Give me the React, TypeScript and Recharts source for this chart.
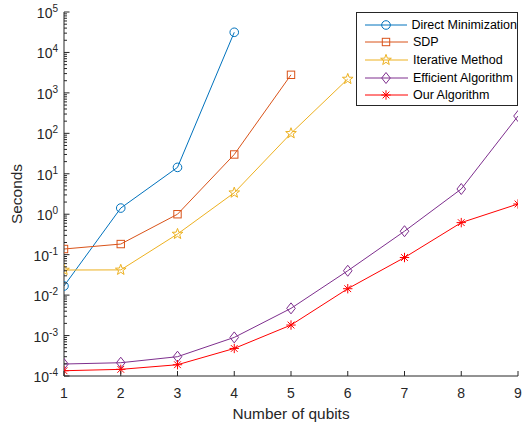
import { LineChart, Line, XAxis, YAxis, Legend } from 'recharts'

const qubits = [1, 2, 3, 4, 5, 6, 7, 8, 9]
const directMin = [0.0168, 1.42, 14.4, 31500]
const sdp = [0.138, 0.183, 1.0, 30, 2800]
const iterative = [0.0417, 0.042, 0.324, 3.4, 100, 2200]
const efficient = [1.98e-4, 2.13e-4, 3.0e-4, 9.0e-4, 4.7e-3, 0.04, 0.38, 4.2, 268]
const ours = [1.35e-4, 1.46e-4, 1.9e-4, 4.8e-4, 1.82e-3, 0.0144, 0.085, 0.62, 1.79]

const exponents = [-4, -3, -2, -1, 0, 1, 2, 3, 4, 5]

const FONT = '"Liberation Sans", Arial, Helvetica, sans-serif'
const AXIS = '#262626'

const majorTicks = exponents.map((e) => Math.pow(10, e))
const minorTicks = exponents.slice(0, -1).flatMap((e) =>
  [2, 3, 4, 5, 6, 7, 8, 9].map((m) => m * Math.pow(10, e)),
)
const allYTicks = [...majorTicks, ...minorTicks].sort((a, b) => a - b)

const data = qubits.map((n, i) => ({
  n,
  direct: directMin[i] ?? null,
  sdp: sdp[i] ?? null,
  iterative: iterative[i] ?? null,
  efficient: efficient[i] ?? null,
  ours: ours[i] ?? null,
}))

type Shape = 'circle' | 'square' | 'star' | 'diamond' | 'asterisk'

const series: { key: string; name: string; color: string; shape: Shape }[] = [
  { key: 'direct', name: 'Direct Minimization', color: '#0072BD', shape: 'circle' },
  { key: 'sdp', name: 'SDP', color: '#D95319', shape: 'square' },
  { key: 'iterative', name: 'Iterative Method', color: '#EDB120', shape: 'star' },
  { key: 'efficient', name: 'Efficient Algorithm', color: '#7E2F8E', shape: 'diamond' },
  { key: 'ours', name: 'Our Algorithm', color: '#FF0000', shape: 'asterisk' },
]

function isMajor(v: number) {
  const l = Math.log10(v)
  return Math.abs(l - Math.round(l)) < 1e-6
}

function Marker({ shape, color, cx, cy }: { shape: Shape; color: string; cx: number; cy: number }) {
  const common = { stroke: color, strokeWidth: 1, fill: 'none' }
  if (shape === 'circle') return <circle cx={cx} cy={cy} r={4.3} {...common} />
  if (shape === 'square') return <rect x={cx - 3.7} y={cy - 3.7} width={7.4} height={7.4} {...common} />
  if (shape === 'diamond') {
    return <polygon points={`${cx},${cy - 5.5} ${cx + 4.3},${cy} ${cx},${cy + 5.5} ${cx - 4.3},${cy}`} {...common} />
  }
  if (shape === 'star') {
    const pts: string[] = []
    for (let k = 0; k < 10; k++) {
      const r = k % 2 === 0 ? 5.6 : 2.3
      const a = -Math.PI / 2 + (k * Math.PI) / 5
      pts.push(`${cx + r * Math.cos(a)},${cy + r * Math.sin(a)}`)
    }
    return <polygon points={pts.join(' ')} {...common} />
  }
  const s = 4.7
  const d = s * 0.72
  return (
    <g stroke={color} strokeWidth={1}>
      <line x1={cx - s} y1={cy} x2={cx + s} y2={cy} />
      <line x1={cx} y1={cy - s} x2={cx} y2={cy + s} />
      <line x1={cx - d} y1={cy - d} x2={cx + d} y2={cy + d} />
      <line x1={cx - d} y1={cy + d} x2={cx + d} y2={cy - d} />
    </g>
  )
}

function makeDot(shape: Shape, color: string) {
  return (props: any) => {
    const { cx, cy, index, value } = props
    if (cx == null || cy == null || value == null || Number.isNaN(cy)) return <g key={`e-${index}`} />
    return <Marker key={`m-${index}`} shape={shape} color={color} cx={cx} cy={cy} />
  }
}

function LeftTick(props: any) {
  const { x, y, payload } = props
  const v = payload.value as number
  const major = isMajor(v)
  const len = major ? 5.5 : 3
  return (
    <g>
      <line x1={x} y1={y} x2={x + len} y2={y} stroke={AXIS} strokeWidth={1} />
      {major && (
        <text x={x - 6} y={y + 6} textAnchor="end" fill={AXIS} fontFamily={FONT} fontSize={14}>
          <tspan>10</tspan>
          <tspan dy={-6} fontSize={10}>
            {Math.round(Math.log10(v))}
          </tspan>
        </text>
      )}
    </g>
  )
}

function RightTick(props: any) {
  const { x, y, payload } = props
  const len = isMajor(payload.value) ? 5.5 : 3
  return <line x1={x} y1={y} x2={x - len} y2={y} stroke={AXIS} strokeWidth={1} />
}

function BottomTick(props: any) {
  const { x, y, payload } = props
  return (
    <g>
      <line x1={x} y1={y} x2={x} y2={y - 5} stroke={AXIS} strokeWidth={1} />
      <text x={x} y={y + 22} textAnchor="middle" fill={AXIS} fontFamily={FONT} fontSize={14}>
        {payload.value}
      </text>
    </g>
  )
}

function TopTick(props: any) {
  const { x, y } = props
  return <line x1={x} y1={y} x2={x} y2={y + 5} stroke={AXIS} strokeWidth={1} />
}

function LegendBox() {
  return (
    <div
      style={{
        boxSizing: 'border-box',
        width: 162,
        height: 94,
        border: `1px solid ${AXIS}`,
        background: '#fff',
        padding: '3px 0 0 8px',
        fontFamily: FONT,
        fontSize: 12.5,
        color: '#000',
      }}
    >
      {series.map((s) => (
        <div key={s.key} style={{ display: 'flex', alignItems: 'center', height: 17.6 }}>
          <svg width={44} height={14} style={{ display: 'block' }}>
            <line x1={0} y1={7} x2={43} y2={7} stroke={s.color} strokeWidth={1} />
            <Marker shape={s.shape} color={s.color} cx={21} cy={7} />
          </svg>
          <span style={{ marginLeft: 4, whiteSpace: 'nowrap' }}>{s.name}</span>
        </div>
      ))}
    </div>
  )
}

export default function App() {
  return (
    <div style={{ position: 'absolute', left: 0, top: 0, width: 522, height: 426, background: '#fff' }}>
      <LineChart width={522} height={426} data={data} margin={{ top: 12, right: 4, left: 0, bottom: 0 }}>
        <XAxis
          dataKey="n"
          type="number"
          domain={[1, 9]}
          ticks={qubits}
          interval={0}
          height={50}
          tickSize={0}
          tickMargin={0}
          tickLine={false}
          axisLine={{ stroke: AXIS }}
          tick={BottomTick}
          allowDataOverflow
        />
        <XAxis
          xAxisId="top"
          orientation="top"
          dataKey="n"
          type="number"
          domain={[1, 9]}
          ticks={qubits}
          interval={0}
          height={0}
          tickSize={0}
          tickMargin={0}
          tickLine={false}
          axisLine={{ stroke: AXIS }}
          tick={TopTick}
          allowDataOverflow
        />
        <YAxis
          scale="log"
          type="number"
          domain={[1e-4, 1e5]}
          ticks={allYTicks}
          interval={0}
          width={64}
          tickSize={0}
          tickMargin={0}
          tickLine={false}
          axisLine={{ stroke: AXIS }}
          tick={LeftTick}
          allowDataOverflow
          label={{
            value: 'Seconds',
            angle: -90,
            position: 'insideLeft',
            offset: 0,
            style: { fontFamily: FONT, fontSize: 15.4, fill: AXIS, textAnchor: 'middle' },
            dx: 17,
          }}
        />
        <YAxis
          yAxisId="r"
          orientation="right"
          scale="log"
          type="number"
          domain={[1e-4, 1e5]}
          ticks={allYTicks}
          interval={0}
          width={0}
          tickSize={0}
          tickMargin={0}
          tickLine={false}
          axisLine={{ stroke: AXIS }}
          tick={RightTick}
          allowDataOverflow
        />
        {series.map((s) => (
          <Line
            key={s.key}
            dataKey={s.key}
            name={s.name}
            stroke={s.color}
            strokeWidth={1}
            dot={makeDot(s.shape, s.color)}
            activeDot={false}
            isAnimationActive={false}
          />
        ))}
        <Legend
          layout="vertical"
          align="center"
          verticalAlign="middle"
          wrapperStyle={{ left: 356, top: 12, width: 162, height: 94 }}
          content={() => <LegendBox />}
        />
        <text
          x={291}
          y={419}
          textAnchor="middle"
          fill={AXIS}
          fontFamily={FONT}
          fontSize={15.4}
        >
          Number of qubits
        </text>
      </LineChart>
    </div>
  )
}
